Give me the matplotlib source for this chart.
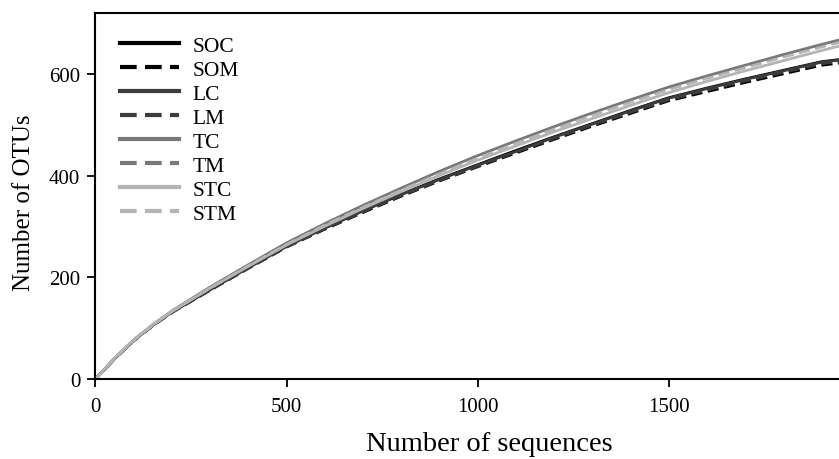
import matplotlib
matplotlib.use("Agg")
import matplotlib.pyplot as plt

seqs = [0, 50, 100, 150, 200, 300, 400, 500, 600, 700, 800, 900, 1000,
        1100, 1200, 1300, 1400, 1500, 1600, 1700, 1800, 1900, 2000]

SOC = [0, 40, 76, 106, 132, 176, 220, 262, 298, 332, 364, 394, 422,
       450, 477, 503, 529, 554, 573, 591, 608, 625, 634]
SOM = [0, 40, 75, 105, 131, 175, 218, 260, 295, 328, 360, 390, 418,
       445, 472, 498, 523, 548, 566, 584, 601, 618, 627]
LC = [0, 40, 76, 106, 132, 176, 219, 261, 297, 331, 363, 393, 421,
      448, 476, 502, 528, 553, 572, 590, 607, 624, 633]
LM = [0, 40, 76, 105, 131, 175, 218, 260, 296, 329, 361, 391, 419,
      447, 474, 500, 525, 550, 569, 587, 604, 621, 630]
TC = [0, 40, 77, 107, 134, 181, 225, 268, 306, 342, 376, 409, 440,
      469, 497, 524, 550, 575, 597, 618, 639, 659, 678]
TM = [0, 40, 76, 106, 133, 180, 224, 267, 305, 340, 374, 407, 438,
      467, 495, 522, 548, 573, 595, 616, 637, 657, 676]
STC = [0, 41, 77, 107, 133, 179, 222, 264, 301, 336, 369, 401, 431,
       459, 487, 513, 539, 564, 586, 607, 627, 647, 666]
STM = [0, 40, 76, 106, 133, 179, 223, 265, 303, 338, 372, 404, 435,
       464, 492, 519, 545, 570, 592, 613, 634, 654, 673]

names = ["SOC", "SOM", "LC", "LM", "TC", "TM", "STC", "STM"]
series = [SOC, SOM, LC, LM, TC, TM, STC, STM]
colors = ["#000000", "#000000", "#3c3c3c", "#3c3c3c",
          "#787878", "#787878", "#b4b4b4", "#b4b4b4"]
dashed = [False, True, False, True, False, True, False, True]

plt.rcParams['font.family'] = ['Liberation Serif', 'DejaVu Serif']

fig = plt.figure(figsize=(8.39, 4.60), dpi=100)
ax = fig.add_axes([0.1138, 0.1739, 0.8862, 0.7957])

for name, vals, c, d in zip(names, series, colors, dashed):
    if d:
        ax.plot(seqs, vals, color=c, lw=2.0, dashes=(4, 2), label=name)
    else:
        ax.plot(seqs, vals, color=c, lw=2.0, label=name)

ax.set_xlim(0, 1946)
ax.set_ylim(0, 721)
ax.set_xticks([0, 500, 1000, 1500])
ax.set_yticks([0, 200, 400, 600])
ax.tick_params(axis='both', direction='out', length=6, width=1.3,
               labelsize=15, pad=5)
ax.tick_params(axis='x', pad=7)
for s in ['left', 'bottom', 'top']:
    ax.spines[s].set_linewidth(1.5)
ax.spines['right'].set_visible(False)

ax.set_xlabel("Number of sequences", fontsize=20.5)
ax.xaxis.set_label_coords(0.53, -0.143)
ax.set_ylabel("Number of OTUs", fontsize=18)
ax.yaxis.set_label_coords(-0.082, 0.485)

leg = ax.legend(loc='upper left', frameon=False, fontsize=15.5,
                handlelength=2.75, handletextpad=0.6, labelspacing=0.18,
                bbox_to_anchor=(0.0, 1.005), borderaxespad=0.75)
for line in leg.get_lines():
    line.set_linewidth(3.0)

fig.savefig("out.png", dpi=100)
